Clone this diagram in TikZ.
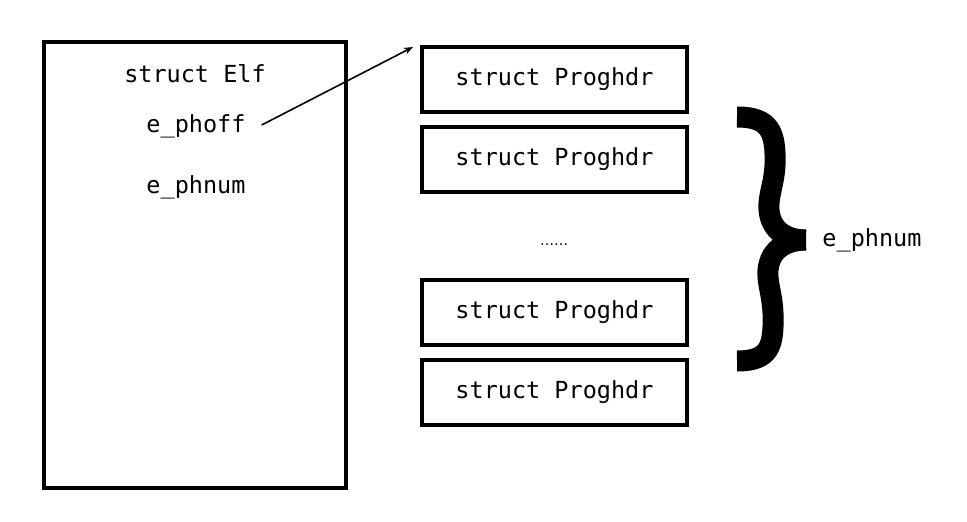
\documentclass[tikz,border=0pt]{standalone}
\usepackage{fontspec}
\setmonofont{DejaVu Sans Mono}
\newfontfamily\dotsfont{DejaVu Sans}
\usetikzlibrary{arrows.meta}
\begin{document}
\begin{tikzpicture}[x=1pt,y=-1pt,
  codetext/.style={font=\ttfamily\fontsize{23.5}{28}\selectfont, inner sep=0pt},
  structbox/.style={draw, line width=4pt, inner sep=0pt},
  hdrbox/.style={structbox, minimum width=265pt, minimum height=65pt, codetext}]
  \useasboundingbox (0,0) rectangle (967,522);

  % ELF header structure
  \node[structbox, minimum width=302pt, minimum height=446pt] (elf) at (195,265) {};
  \node[codetext] (elfname) at (195,74) {struct Elf};
  \node[codetext] (phoff) at (196,126) {e\_phoff};
  \node[codetext] (phnum) at (196,187) {e\_phnum};

  % Program header table
  \node[hdrbox] (p1) at (554.5,79.5) {struct Proghdr};
  \node[hdrbox] (p2) at (554.5,159.5) {struct Proghdr};
  \node[inner sep=0pt, anchor=base, font=\dotsfont\fontsize{14}{16}\selectfont] (dots) at (554,245) {……};
  \node[hdrbox] (p3) at (554.5,312.5) {struct Proghdr};
  \node[hdrbox] (p4) at (554.5,392.5) {struct Proghdr};

  % offset pointer into the table
  \coordinate (tip) at (413,47);
  \draw[line width=1.6pt, -{Stealth[length=9pt,width=7pt]}] ([xshift=16pt,yshift=1pt]phoff.east) -- (tip);

  % brace spanning the header entries
  \draw[line width=21pt, line cap=butt]
    (737,117) .. controls (770,117) and (776,132) .. (775,165)
    .. controls (774,185) and (768,195) .. (769,210)
    .. controls (771,232) and (788,240) .. (806,240);
  \draw[line width=21pt, line cap=butt]
    (737,361) .. controls (770,361) and (774,346) .. (773,313)
    .. controls (772,293) and (767,283) .. (768,270)
    .. controls (770,248) and (788,240) .. (806,240);
  \node[codetext] (count) at (872,240) {e\_phnum};
\end{tikzpicture}
\end{document}
